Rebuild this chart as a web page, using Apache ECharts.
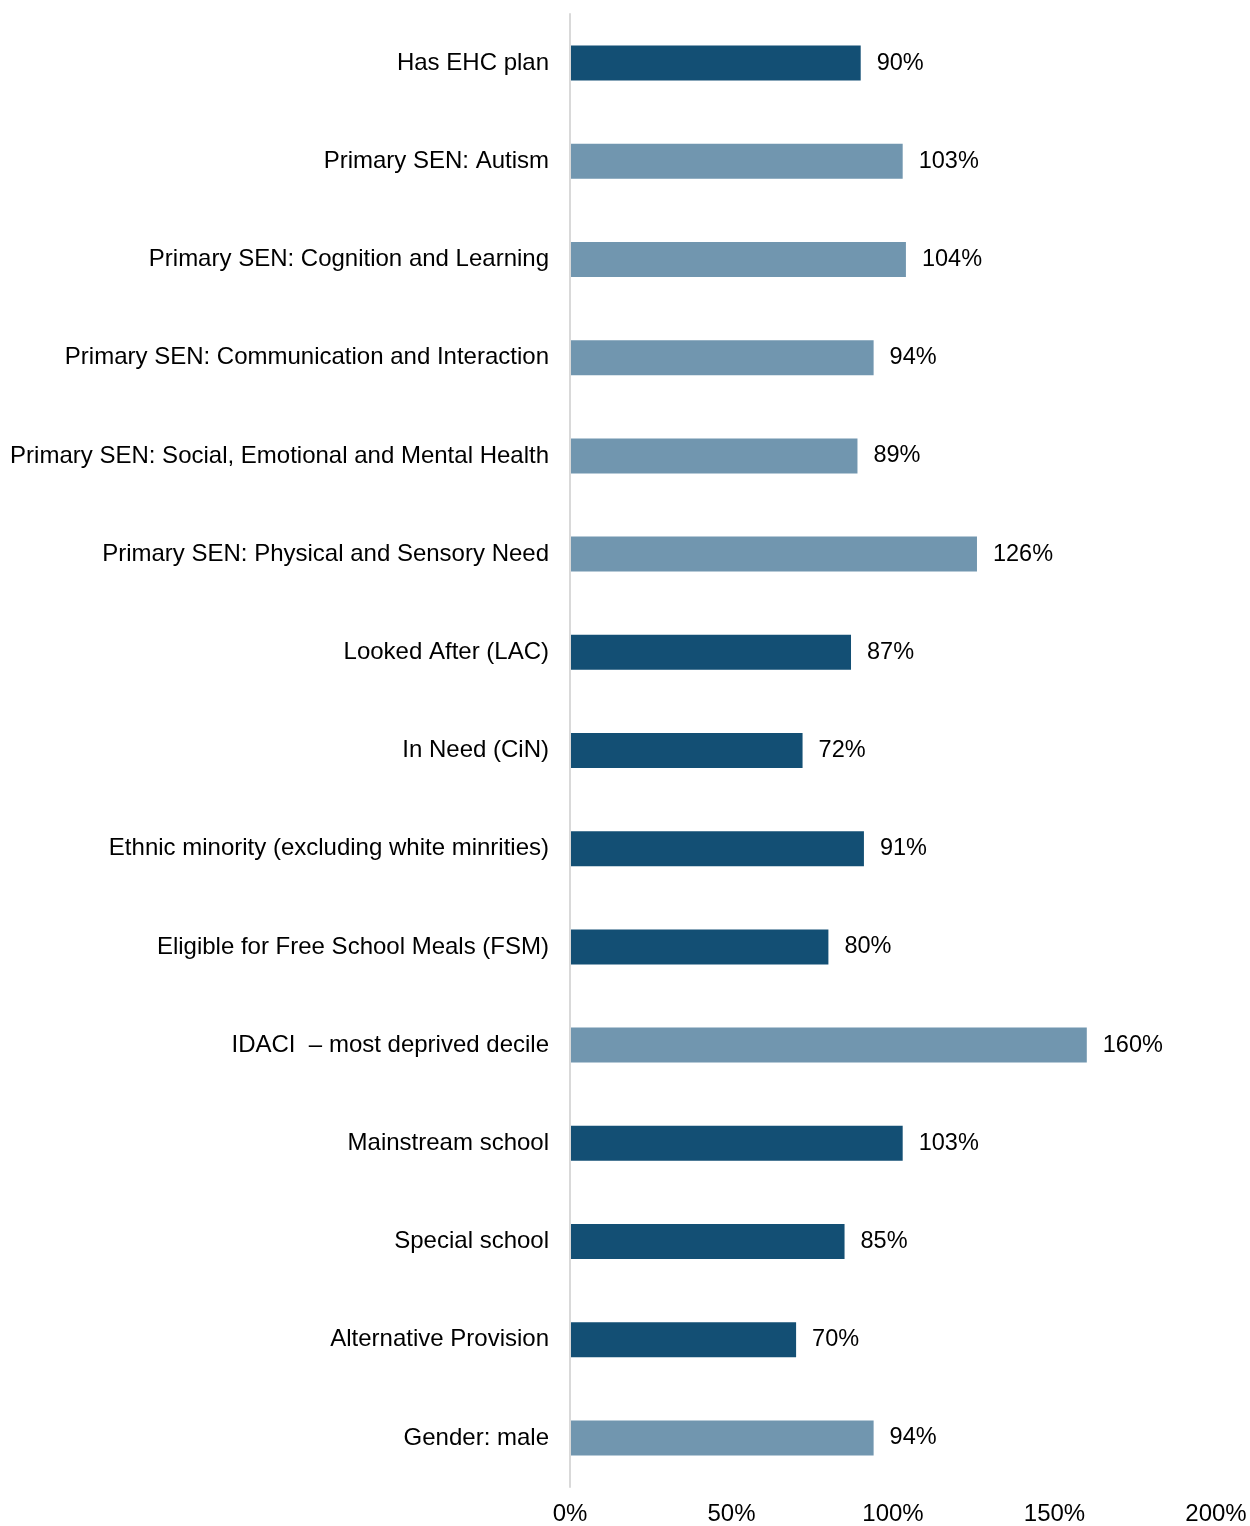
<!DOCTYPE html>
<html>
<head>
<meta charset="utf-8">
<script src="https://cdn.jsdelivr.net/npm/echarts@6/dist/echarts.min.js"></script>
<style>
  html, body { margin: 0; padding: 0; background: #ffffff; }
  #chart { width: 1250px; height: 1526px; }
</style>
</head>
<body>
<div id="chart"></div>
<script>
// Row labels, top to bottom
const categories = [
  'Has EHC plan',
  'Primary SEN: Autism',
  'Primary SEN: Cognition and Learning',
  'Primary SEN: Communication and Interaction',
  'Primary SEN: Social, Emotional and Mental Health',
  'Primary SEN: Physical and Sensory Need',
  'Looked After (LAC)',
  'In Need (CiN)',
  'Ethnic minority (excluding white minrities)',
  'Eligible for Free School Meals (FSM)',
  'IDACI  \u2013 most deprived decile',
  'Mainstream school',
  'Special school',
  'Alternative Provision',
  'Gender: male'
];

// Ratio values in percent
const values = [90, 103, 104, 94, 89, 126, 87, 72, 91, 80, 160, 103, 85, 70, 94];

// Which shade each row uses: 'dark' or 'light'
const shades = ['dark', 'light', 'light', 'light', 'light', 'light', 'dark', 'dark',
                'dark', 'dark', 'light', 'dark', 'dark', 'dark', 'light'];

// Axis tick values
const xTicks = [0, 50, 100, 150, 200];

const palette = { dark: '#134F74', light: '#7196AF' };
const fontFamily = '"Liberation Sans", Arial, sans-serif';

const chart = echarts.init(document.getElementById('chart'), null, { renderer: 'canvas' });

chart.setOption({
  animation: false,
  backgroundColor: '#ffffff',
  grid: { left: 570, right: 34, top: 14, bottom: 37, containLabel: false },
  xAxis: {
    type: 'value',
    min: xTicks[0],
    max: xTicks[xTicks.length - 1],
    interval: xTicks[1] - xTicks[0],
    axisLine: { show: false },
    axisTick: { show: false },
    splitLine: { show: false },
    axisLabel: {
      formatter: v => v + '%',
      color: '#000000',
      fontSize: 24,
      fontFamily: fontFamily,
      margin: 15
    }
  },
  yAxis: {
    type: 'category',
    inverse: true,
    data: categories,
    z: 3,
    axisLine: { show: true, lineStyle: { color: '#d9d9d9', width: 2 } },
    axisTick: { show: false },
    axisLabel: {
      color: '#000000',
      fontSize: 24,
      fontFamily: fontFamily,
      margin: 21,
      padding: [3, 0, 0, 0]
    }
  },
  series: [{
    type: 'bar',
    barWidth: 35,
    data: values.map((v, i) => ({
      value: v,
      itemStyle: { color: palette[shades[i]] }
    })),
    label: {
      show: true,
      position: 'right',
      distance: 16,
      formatter: p => p.value + '%',
      color: '#000000',
      fontSize: 23.5,
      fontFamily: fontFamily,
      padding: [4, 0, 0, 0]
    }
  }]
});
</script>
</body>
</html>
